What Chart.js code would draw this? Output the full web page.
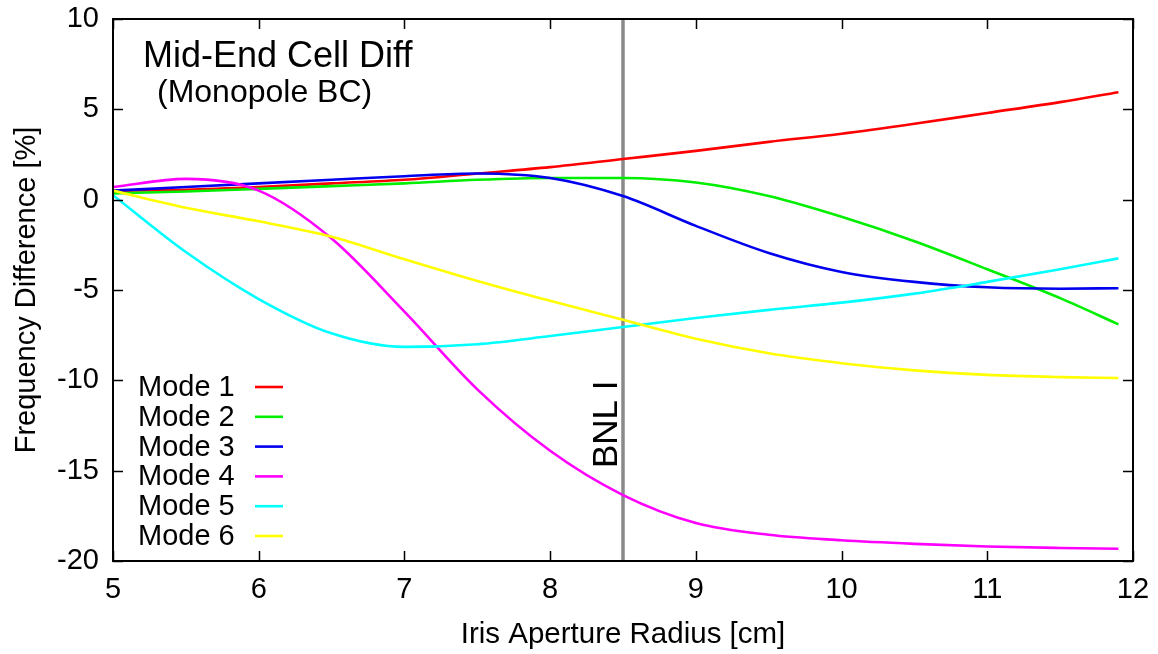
<!DOCTYPE html>
<html>
<head>
<meta charset="utf-8">
<script src="https://cdn.jsdelivr.net/npm/chart.js@4/dist/chart.umd.min.js"></script>
<style>
html,body{margin:0;padding:0;background:#fff;}
#wrap{width:1158px;height:654px;}
</style>
</head>
<body>
<div id="wrap"><canvas id="c" width="1158" height="654"></canvas></div>
<script>
// ---- data ----
const xs = [5, 5.5, 6, 6.5, 7, 7.5, 8, 8.5, 9, 9.5, 10, 10.5, 11, 11.5, 11.9];
const mode1 = [0.5, 0.55, 0.7, 0.9, 1.1, 1.45, 1.8, 2.25, 2.7, 3.2, 3.65, 4.2, 4.8, 5.4, 5.95];
const mode2 = [0.35, 0.45, 0.6, 0.75, 0.9, 1.1, 1.2, 1.2, 0.95, 0.2, -0.95, -2.3, -3.85, -5.45, -6.9];
const mode3 = [0.5, 0.7, 0.9, 1.1, 1.3, 1.45, 1.2, 0.2, -1.45, -2.95, -4.0, -4.55, -4.85, -4.93, -4.9];
const mode4 = [0.7, 1.15, 0.5, -2.15, -6.2, -10.5, -13.9, -16.35, -17.9, -18.55, -18.85, -19.05, -19.2, -19.28, -19.32];
const mode5 = [0.25, -2.9, -5.5, -7.4, -8.15, -8.0, -7.55, -7.05, -6.55, -6.1, -5.7, -5.2, -4.55, -3.85, -3.25];
const mode6 = [0.5, -0.45, -1.2, -2.05, -3.3, -4.5, -5.6, -6.65, -7.7, -8.5, -9.05, -9.45, -9.7, -9.82, -9.87];
const seriesNames = ['Mode 1', 'Mode 2', 'Mode 3', 'Mode 4', 'Mode 5', 'Mode 6'];
const seriesColors = ['#ff0000', '#00ee00', '#0000ee', '#ff00ff', '#00ffff', '#ffff00'];
const xTicks = [5, 6, 7, 8, 9, 10, 11, 12];
const yTicks = [-20, -15, -10, -5, 0, 5, 10];
const markerX = 8.5;
const markerLabel = 'BNL I';
const titleLines = ['Mid-End Cell Diff', '(Monopole BC)'];
const xTitle = 'Iris Aperture Radius [cm]';
const yTitle = 'Frequency Difference [%]';

const FONT = '"Liberation Sans", Arial, Helvetica, sans-serif';
const allSeries = [mode1, mode2, mode3, mode4, mode5, mode6];

const datasets = allSeries.map((vals, i) => ({
  label: seriesNames[i],
  data: xs.map((x, j) => ({x: x, y: vals[j]})),
  borderColor: seriesColors[i],
  backgroundColor: seriesColors[i],
  borderWidth: 2.6,
  pointRadius: 0,
  fill: false,
  cubicInterpolationMode: 'monotone',
  order: 6 - i
}));

const decor = {
  id: 'decor',
  beforeDatasetsDraw(chart) {
    const {ctx, chartArea: a, scales: {x, y}} = chart;
    const px = x.getPixelForValue(markerX);
    ctx.save();
    ctx.strokeStyle = '#8a8a8a';
    ctx.lineWidth = 3.5;
    ctx.beginPath();
    ctx.moveTo(px, a.top);
    ctx.lineTo(px, a.bottom);
    ctx.stroke();
    ctx.translate(px - 6, 468);
    ctx.rotate(-Math.PI / 2);
    ctx.fillStyle = '#000';
    ctx.font = '35px ' + FONT;
    ctx.textAlign = 'left';
    ctx.textBaseline = 'alphabetic';
    ctx.fillText(markerLabel, 0, 0);
    ctx.restore();
  },
  afterDraw(chart) {
    const {ctx, chartArea: a, scales: {x, y}} = chart;
    ctx.save();
    // ticks inward on all sides
    ctx.strokeStyle = '#000';
    ctx.lineWidth = 1.5;
    const tl = 10;
    ctx.beginPath();
    xTicks.forEach(v => {
      const p = Math.round(x.getPixelForValue(v)) + 0.5;
      ctx.moveTo(p, a.bottom); ctx.lineTo(p, a.bottom - tl);
      ctx.moveTo(p, a.top); ctx.lineTo(p, a.top + tl);
    });
    yTicks.forEach(v => {
      const p = Math.round(y.getPixelForValue(v)) + 0.5;
      ctx.moveTo(a.left, p); ctx.lineTo(a.left + tl, p);
      ctx.moveTo(a.right, p); ctx.lineTo(a.right - tl, p);
    });
    ctx.stroke();
    // frame
    ctx.lineWidth = 2;
    ctx.strokeRect(a.left, a.top, a.right - a.left, a.bottom - a.top);
    // title
    ctx.fillStyle = '#000';
    ctx.textAlign = 'left';
    ctx.textBaseline = 'alphabetic';
    ctx.font = '36px ' + FONT;
    ctx.fillText(titleLines[0], 143, 67);
    ctx.font = '32px ' + FONT;
    ctx.fillText(titleLines[1], 157, 102);
    // legend
    ctx.font = '29px ' + FONT;
    ctx.textBaseline = 'middle';
    chart.data.datasets.forEach((ds, i) => {
      const cy = 388 + i * 29.8;
      ctx.fillStyle = '#000';
      ctx.fillText(ds.label, 138, cy);
      ctx.strokeStyle = ds.borderColor;
      ctx.lineWidth = 2.6;
      ctx.beginPath();
      ctx.moveTo(255, cy - 1);
      ctx.lineTo(283, cy - 1);
      ctx.stroke();
    });
    ctx.restore();
  }
};

new Chart(document.getElementById('c'), {
  type: 'line',
  data: {datasets: datasets},
  options: {
    responsive: false,
    animation: false,
    devicePixelRatio: 1,
    layout: {padding: {left: 0, right: 25, top: 19, bottom: 0}},
    plugins: {legend: {display: false}, tooltip: {enabled: false}},
    scales: {
      x: {
        type: 'linear', min: 5, max: 12,
        afterBuildTicks: s => { s.ticks = xTicks.map(v => ({value: v})); },
        ticks: {color: '#000', font: {family: FONT, size: 29}, padding: 12, maxRotation: 0, autoSkip: false},
        grid: {display: false, drawTicks: false},
        border: {display: false},
        title: {display: true, text: xTitle, color: '#000', font: {family: FONT, size: 29.5}, padding: {top: 0, bottom: 1}},
        afterFit: s => { s.height = 93; s.paddingLeft = 0; s.paddingRight = 0; }
      },
      y: {
        type: 'linear', min: -20, max: 10,
        afterBuildTicks: s => { s.ticks = yTicks.map(v => ({value: v})); },
        ticks: {color: '#000', font: {family: FONT, size: 29}, padding: 14, autoSkip: false},
        grid: {display: false, drawTicks: false},
        border: {display: false},
        title: {display: true, text: yTitle, color: '#000', font: {family: FONT, size: 29}, padding: {top: 10, bottom: 0}},
        afterFit: s => { s.width = 113; s.paddingTop = 0; s.paddingBottom = 0; }
      }
    }
  },
  plugins: [decor]
});
</script>
</body>
</html>
